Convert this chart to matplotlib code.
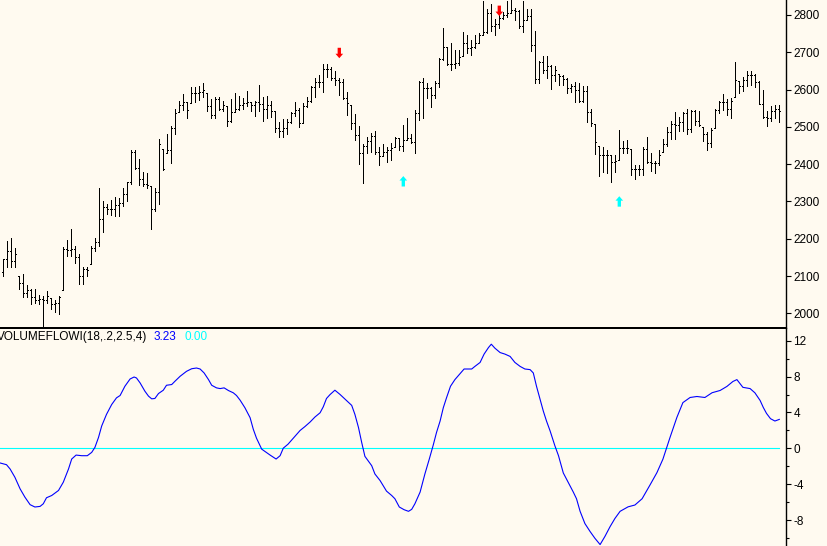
import numpy as np
import matplotlib
matplotlib.use('Agg')
import matplotlib.pyplot as plt
from matplotlib.collections import LineCollection
from matplotlib.lines import Line2D

plt.rcParams['font.family'] = ['Liberation Sans', 'DejaVu Sans']

# price bars (one per bar)
highs = [2145, 2193, 2201, 2175, 2100, 2105, 2076, 2065, 2065, 2049,
         2047, 2059, 2040, 2035, 2047, 2178, 2196, 2226, 2180, 2158,
         2124, 2123, 2180, 2203, 2335, 2301, 2294, 2305, 2312, 2310,
         2335, 2351, 2438, 2438, 2413, 2378, 2376, 2341, 2337, 2467,
         2440, 2481, 2502, 2548, 2568, 2587, 2567, 2606, 2608, 2610,
         2618, 2592, 2575, 2579, 2579, 2569, 2556, 2575, 2592, 2583,
         2576, 2596, 2567, 2570, 2612, 2579, 2583, 2569, 2542, 2514,
         2521, 2521, 2541, 2566, 2551, 2563, 2579, 2609, 2630, 2639,
         2668, 2668, 2661, 2650, 2630, 2627, 2594, 2558, 2534, 2502,
         2454, 2473, 2484, 2490, 2447, 2454, 2447, 2456, 2473, 2469,
         2505, 2523, 2482, 2545, 2623, 2630, 2618, 2608, 2623, 2684,
         2764, 2715, 2724, 2706, 2706, 2754, 2746, 2733, 2746, 2751,
         2836, 2816, 2830, 2789, 2800, 2809, 2838, 2845, 2818, 2812,
         2836, 2816, 2815, 2757, 2677, 2690, 2690, 2666, 2663, 2641,
         2639, 2630, 2615, 2621, 2618, 2609, 2609, 2549, 2507, 2448,
         2447, 2438, 2424, 2424, 2491, 2463, 2464, 2440, 2399, 2399,
         2446, 2472, 2430, 2408, 2439, 2467, 2500, 2516, 2539, 2527,
         2539, 2549, 2545, 2545, 2542, 2500, 2487, 2496, 2548, 2569,
         2587, 2574, 2576, 2673, 2624, 2634, 2651, 2651, 2641, 2624,
         2599, 2542, 2556, 2558, 2558]
lows = [2100, 2124, 2124, 2124, 2066, 2044, 2044, 2026, 2029, 2026,
        1950, 2028, 2013, 2004, 1999, 2062, 2153, 2153, 2135, 2078,
        2078, 2100, 2132, 2167, 2181, 2218, 2266, 2263, 2260, 2261,
        2288, 2302, 2346, 2387, 2344, 2341, 2337, 2226, 2275, 2294,
        2384, 2431, 2402, 2480, 2539, 2545, 2523, 2563, 2567, 2572,
        2581, 2543, 2523, 2525, 2545, 2543, 2503, 2514, 2539, 2545,
        2548, 2556, 2543, 2530, 2543, 2516, 2525, 2527, 2487, 2472,
        2472, 2481, 2509, 2530, 2500, 2509, 2552, 2567, 2579, 2608,
        2594, 2634, 2626, 2612, 2585, 2574, 2531, 2493, 2466, 2400,
        2350, 2429, 2433, 2427, 2399, 2422, 2405, 2411, 2445, 2438,
        2436, 2464, 2457, 2431, 2518, 2523, 2576, 2552, 2576, 2608,
        2679, 2666, 2652, 2657, 2666, 2690, 2697, 2693, 2712, 2724,
        2746, 2751, 2758, 2746, 2764, 2789, 2794, 2805, 2787, 2764,
        2755, 2787, 2703, 2618, 2618, 2643, 2630, 2601, 2624, 2612,
        2612, 2592, 2594, 2567, 2567, 2567, 2514, 2502, 2427, 2368,
        2379, 2375, 2353, 2379, 2411, 2429, 2429, 2370, 2361, 2370,
        2370, 2404, 2382, 2377, 2397, 2433, 2449, 2467, 2467, 2489,
        2489, 2482, 2487, 2505, 2503, 2463, 2439, 2445, 2498, 2538,
        2545, 2531, 2524, 2579, 2590, 2597, 2610, 2612, 2608, 2560,
        2523, 2502, 2516, 2523, 2513]
closes = [2145, 2166, 2140, 2158, 2081, 2054, 2064, 2044, 2035, 2039,
          2037, 2047, 2026, 2029, 2044, 2172, 2171, 2172, 2151, 2101,
          2120, 2117, 2176, 2192, 2252, 2284, 2280, 2280, 2290, 2297,
          2321, 2351, 2433, 2391, 2360, 2346, 2344, 2281, 2325, 2453,
          2386, 2439, 2496, 2536, 2558, 2567, 2545, 2590, 2592, 2594,
          2599, 2556, 2532, 2574, 2547, 2558, 2516, 2541, 2549, 2558,
          2563, 2567, 2558, 2567, 2561, 2547, 2558, 2542, 2498, 2490,
          2498, 2514, 2538, 2545, 2509, 2557, 2569, 2608, 2619, 2619,
          2655, 2654, 2630, 2625, 2619, 2576, 2565, 2509, 2478, 2429,
          2448, 2463, 2475, 2433, 2422, 2433, 2438, 2442, 2469, 2448,
          2466, 2469, 2460, 2538, 2621, 2603, 2603, 2585, 2617, 2681,
          2715, 2668, 2668, 2672, 2688, 2726, 2710, 2715, 2724, 2746,
          2755, 2805, 2770, 2776, 2791, 2800, 2804, 2813, 2811, 2769,
          2787, 2797, 2719, 2627, 2675, 2652, 2662, 2639, 2652, 2636,
          2627, 2603, 2609, 2599, 2570, 2597, 2540, 2509, 2460, 2424,
          2424, 2424, 2406, 2408, 2442, 2442, 2444, 2388, 2388, 2388,
          2440, 2406, 2402, 2402, 2424, 2455, 2485, 2507, 2505, 2514,
          2536, 2494, 2543, 2515, 2505, 2480, 2458, 2491, 2545, 2567,
          2567, 2547, 2569, 2625, 2609, 2625, 2639, 2639, 2619, 2560,
          2527, 2523, 2542, 2549, 2542]
opens = [2110, 2145, 2166, 2140, 2158, 2081, 2054, 2064, 2044, 2035,
         2039, 2037, 2047, 2026, 2029, 2044, 2172, 2171, 2172, 2151,
         2101, 2120, 2117, 2176, 2192, 2252, 2284, 2280, 2280, 2290,
         2297, 2321, 2351, 2433, 2391, 2360, 2346, 2344, 2281, 2325,
         2453, 2386, 2439, 2496, 2536, 2558, 2567, 2545, 2590, 2592,
         2594, 2599, 2556, 2532, 2574, 2547, 2558, 2516, 2541, 2549,
         2558, 2563, 2567, 2558, 2567, 2561, 2547, 2558, 2542, 2498,
         2490, 2498, 2514, 2538, 2545, 2509, 2557, 2569, 2608, 2619,
         2619, 2655, 2654, 2630, 2625, 2619, 2576, 2565, 2509, 2478,
         2429, 2448, 2463, 2475, 2433, 2422, 2433, 2438, 2442, 2469,
         2448, 2466, 2469, 2460, 2538, 2621, 2603, 2603, 2585, 2617,
         2681, 2715, 2668, 2668, 2672, 2688, 2726, 2710, 2715, 2724,
         2746, 2755, 2805, 2770, 2776, 2791, 2800, 2804, 2813, 2811,
         2769, 2787, 2797, 2719, 2627, 2675, 2652, 2662, 2639, 2652,
         2636, 2627, 2603, 2609, 2599, 2570, 2597, 2540, 2509, 2460,
         2424, 2424, 2424, 2406, 2408, 2442, 2442, 2444, 2388, 2388,
         2388, 2440, 2406, 2402, 2402, 2424, 2455, 2485, 2507, 2505,
         2514, 2536, 2494, 2543, 2515, 2505, 2480, 2458, 2491, 2545,
         2567, 2567, 2547, 2569, 2625, 2609, 2625, 2639, 2639, 2619,
         2560, 2527, 2523, 2542, 2549]

# signal arrows: bar index and arrow tip price
sell_idx = [84, 124]
sell_tip = [2684, 2797]
buy_idx = [100, 154]
buy_tip = [2368, 2314]

# VOLUMEFLOWI indicator, sampled along the bar axis
vf_x = [-0.8, 0.8, 1.7, 2.9, 4.2, 5.4, 6.7, 7.9, 9.2, 10.0, 10.8, 12.1, 13.8, 15.0,
        16.3, 17.1, 18.2, 19.6, 21.0, 22.1, 22.9, 23.8, 24.6, 25.8, 27.1, 28.3,
        29.2, 30.4, 31.7, 32.7, 33.3, 34.2, 35.4, 36.3, 37.1, 37.9, 38.8, 40.0,
        40.8, 42.1, 42.9, 44.2, 45.8, 47.1, 48.3, 49.2, 50.2, 51.3, 52.1, 53.3,
        54.2, 55.2, 56.3, 57.5, 58.3, 59.2, 60.4, 61.7, 62.5, 63.3, 64.6, 65.4,
        66.7, 68.2, 69.2, 70.0, 71.2, 72.5, 74.2, 75.4, 76.7, 77.9, 79.2, 80.0,
        80.8, 81.7, 82.9, 84.2, 85.8, 87.1, 87.9, 88.8, 89.6, 90.4, 91.2, 92.1,
        92.9, 94.2, 95.8, 97.1, 97.9, 99.0, 100.2, 101.3, 102.1, 102.9, 104.2,
        105.4, 106.5, 107.5, 108.3, 109.2, 110.0, 110.8, 111.8, 112.9, 114.2,
        115.2, 117.1, 117.9, 119.2, 120.2, 121.3, 122.0, 122.9, 124.2, 125.4,
        126.7, 127.9, 129.2, 130.4, 131.7, 132.5, 133.3, 134.2, 135.0, 135.8,
        136.7, 137.9, 138.8, 140.0, 141.2, 142.5, 143.3, 144.2, 145.4, 146.7,
        147.9, 149.2, 150.4, 151.7, 152.9, 154.2, 156.2, 157.9, 159.7, 161.7,
        163.4, 164.9, 166.7, 168.4, 169.9, 171.7, 173.4, 175.4, 177.2, 179.2,
        180.9, 182.4, 183.4, 184.9, 186.7, 187.9, 189.2, 190.0, 190.8, 191.8,
        192.9, 194.0]
vf_y = [-1.62, -1.81, -2.29, -3.21, -4.50, -5.42, -6.26, -6.52, -6.45, -6.16, -5.49,
        -5.24, -4.68, -3.76, -2.29, -1.18, -0.74, -0.81, -0.81, -0.44, 0.11, 1.22,
        2.50, 3.79, 4.89, 5.63, 5.89, 6.92, 7.73, 7.95, 7.84, 7.29, 6.37, 5.82,
        5.52, 5.56, 6.11, 6.48, 7.03, 7.11, 7.47, 8.03, 8.58, 8.87, 8.95, 8.84,
        8.40, 7.66, 7.03, 6.74, 6.66, 6.74, 6.44, 6.19, 5.89, 5.37, 4.53, 3.42,
        2.13, 1.14, -0.08, -0.33, -0.74, -1.18, -0.81, 0.03, 0.48, 1.14, 2.00,
        2.43, 2.94, 3.49, 3.97, 4.64, 5.56, 6.00, 6.48, 6.00, 5.34, 4.79, 3.79,
        2.32, 0.66, -0.88, -1.37, -1.92, -2.84, -3.58, -4.75, -5.24, -5.60, -6.52,
        -6.82, -7.00, -6.78, -6.16, -4.86, -2.84, -1.18, 0.40, 1.77, 3.05, 4.53,
        5.63, 6.92, 7.66, 8.32, 8.84, 8.84, 9.13, 9.57, 10.50, 11.23, 11.60, 11.16,
        10.67, 10.50, 10.24, 9.57, 9.13, 8.84, 8.77, 8.40, 6.92, 5.45, 4.16, 3.05,
        1.95, 0.29, -0.81, -2.73, -3.76, -4.86, -5.60, -7.00, -8.36, -9.25, -10.0,
        -10.7, -9.8, -8.7, -7.8, -7.0, -6.5, -6.3, -5.6, -4.05, -2.7, -1.2, 1.25,
        3.46, 5.1, 5.67, 5.78, 5.67, 6.2, 6.45, 6.9, 7.45, 7.66, 6.8, 6.66, 6.19,
        5.34, 4.56, 3.9, 3.31, 3.05, 3.23]

price_ticks = [2000, 2100, 2200, 2300, 2400, 2500, 2600, 2700, 2800]
vf_ticks = [12, 8, 4, 0, -4, -8]
vf_minor = [10, 6, 2, -2, -6, -10]

bg = '#fffaf0'
fig = plt.figure(figsize=(8.28, 5.46), dpi=100, facecolor=bg)
split = (546 - 328.3) / 546
right = 786.3 / 828
ax2 = fig.add_axes([0, 0, right, split], facecolor='none')
ax1 = fig.add_axes([0, split, right, 1 - split], facecolor='none')

n = len(closes)
idx = np.arange(n)
o = np.clip(opens, lows, highs)

# OHLC bars, 1 px lines with 1 px open/close ticks
segs = [[(i, l), (i, h)] for i, l, h in zip(idx, lows, highs)]
segs += [[(i - 0.3, p), (i, p)] for i, p in zip(idx, o)]
segs += [[(i, p), (i + 0.3, p)] for i, p in zip(idx, closes)]
ax1.add_collection(LineCollection(segs, colors='black', linewidths=0.72,
                                  antialiaseds=False, capstyle='butt'))

for i, p in zip(sell_idx, sell_tip):
    ax1.annotate('', xy=(i, p), xytext=(0, 7.5), textcoords='offset points',
                 arrowprops=dict(facecolor='#ff0000', edgecolor='none', width=2.4,
                                 headwidth=5.5, headlength=3.2, shrink=0))
for i, p in zip(buy_idx, buy_tip):
    ax1.annotate('', xy=(i, p), xytext=(0, -7.5), textcoords='offset points',
                 arrowprops=dict(facecolor='#00ffff', edgecolor='none', width=2.4,
                                 headwidth=5.5, headlength=3.2, shrink=0))

xl = (-0.825, 195.75)
ax1.set_xlim(*xl)
ax1.set_ylim(1960, 2840)
ax1.set_xticks([])
ax1.yaxis.tick_right()
ax1.set_yticks(price_ticks)
ax1.set_yticklabels([str(t) for t in price_ticks])

# indicator
ax2.plot([xl[0], vf_x[-1]], [0, 0], color='#00ffff', lw=0.8)
ax2.plot(vf_x, vf_y, color='#0000ff', lw=0.8)
ax2.set_xlim(*xl)
ax2.set_ylim(-10.86, 13.37)
ax2.set_xticks([])
ax2.yaxis.tick_right()
ax2.set_yticks(vf_ticks)
ax2.set_yticklabels([str(t) for t in vf_ticks])
ax2.set_yticks(vf_minor, minor=True)

for ax in (ax1, ax2):
    for s in ('left', 'top', 'bottom', 'right'):
        ax.spines[s].set_visible(False)
    ax.tick_params(axis='y', which='major', direction='out', length=3.5, width=0.8,
                   pad=1.5, labelsize=8.5, colors='black')
    ax.tick_params(axis='y', which='minor', direction='out', length=2, width=0.8)
    # right axis line, drawn inside each panel just at its edge
    ax.axvline(xl[1] - 0.1, color='black', lw=1.0, clip_on=False, zorder=6)

# panel divider
fig.add_artist(Line2D([0, right], [split, split], color='black', lw=1.2,
                      antialiased=False, zorder=10))

ty = 1 - 337 / 546
fig.text(-3 / 828, ty, 'VOLUMEFLOWI(18,.2,2.5,4)', fontsize=8.5, color='black', va='center')
fig.text(154 / 828, ty, '3.23', fontsize=8.5, color='#0000ff', va='center')
fig.text(185 / 828, ty, '0.00', fontsize=8.5, color='#00ffff', va='center')

fig.savefig('out.png', dpi=100, facecolor=bg)
